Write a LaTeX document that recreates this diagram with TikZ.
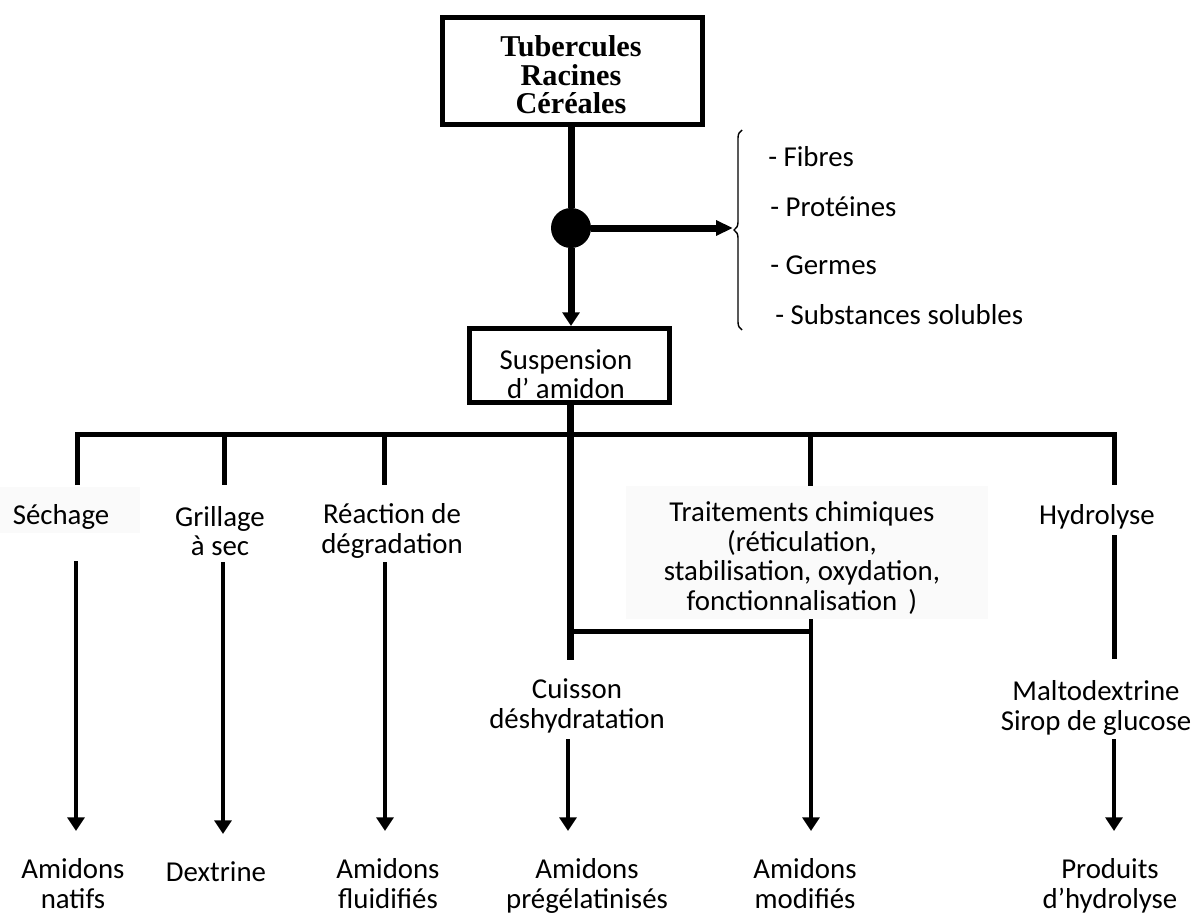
\documentclass[tikz,border=0pt]{standalone}
\usepackage{fontspec}
\setmainfont{Carlito}
\newfontfamily\rootfont{Liberation Serif}
\usetikzlibrary{arrows.meta,decorations.pathreplacing}

\tikzset{
  txt/.style={align=center,inner sep=0pt,font=\fontsize{20.5}{21}\selectfont},
  item/.style={txt,anchor=west},
  product/.style={txt,anchor=north,inner ysep=0.68cm},
  frame/.style={draw,line width=0.125cm,rectangle,inner sep=0pt},
  shade/.style={fill=black!2},
  link/.style={line width=0.125cm},
  trunk/.style={line width=0.175cm},
  flow/.style={line width=0.11cm,-{Triangle[length=0.34cm,width=0.42cm]}},
}

\begin{document}
\begin{tikzpicture}[x=0.025cm,y=-0.025cm]
\useasboundingbox (0,0) rectangle (1200,913);

% raw material and separation
\node[frame,minimum width=6.5cm,minimum height=2.675cm] (root) at (572.5,71) {};
\node[txt,font=\rootfont\bfseries\fontsize{21.5}{20.2}\selectfont] (roottxt) at (571,75) {Tubercules\\Racines\\Céréales};
\node[circle,fill,inner sep=0pt,minimum size=1cm] (sep) at (571,228) {};
\draw[trunk] (root.south -| sep) -- (sep);

% removed fractions
\coordinate (out) at (733,228);
\draw[trunk,-{Triangle[length=0.42cm,width=0.36cm]}] (sep) -- (out);
\draw[line width=0.035cm,decorate,decoration={brace,amplitude=0.2cm}] (742,330) -- (742,130);
\node[item] (fib) at (768,157) {- Fibres};
\node[item] (prot) at (770,207) {- Protéines};
\node[item] (germ) at (770,265) {- Germes};
\node[item] (solub) at (775,315) {- Substances solubles};

% starch slurry
\node[frame,minimum width=5cm,minimum height=1.85cm] (susp) at (569.5,365.5) {};
\node[txt] (susptxt) at (566,374) {Suspension\\d’ amidon};
\draw[trunk,-{Triangle[length=0.34cm,width=0.42cm]}] (sep) -- (sep |- susp.north);

% distribution bar
\coordinate (bar) at (570,434);
\coordinate (t1) at (77,485);
\coordinate (t2) at (224,485);
\coordinate (t3) at (384,485);
\coordinate (t5) at (810,486);
\coordinate (t6) at (1114,485);
\coordinate (c4) at (570,660);
\draw[link] (t1) |- (bar) -| (t6);
\draw[link] (t2 |- bar) -- (t2);
\draw[link] (t3 |- bar) -- (t3);
\draw[link] (t5 |- bar) -- (t5);
\draw[trunk] (susp.south -| c4) -- (c4);

% treatments
\fill[shade] (0,487) rectangle (140,533);
\fill[shade] (626,486) rectangle (988,619);
\node[txt] (seche) at (61,517) {Séchage};
\node[txt] (grill) at (220,531) {Grillage\\à sec};
\node[txt] (degr) at (392,531) {Réaction de\\dégradation};
\node[txt] (trait) at (802,558) {Traitements chimiques\\(réticulation,\\stabilisation, oxydation,\\fonctionnalisation \,)};
\node[txt] (hydro) at (1097,517) {Hydrolyse};
\node[txt] (cuis) at (577,706) {Cuisson\\déshydratation};
\node[txt] (malto) at (1096,708) {Maltodextrine\\Sirop de glucose};

\coordinate (j) at (570,631);
\coordinate (u5) at (811,619);
\coordinate (h1) at (1114,535);
\coordinate (h2) at (1114,659);
\draw[link] (j) -- (j -| u5);
\draw[link] (h1) -- (h2);

% products
\node[product] (natifs) at (73,831) {Amidons\\natifs};
\node[product] (dextr) at (216,834) {Dextrine};
\node[product] (fluid) at (388,831) {Amidons\\fluidifiés};
\node[product] (pregel) at (587,831) {Amidons\\prégélatinisés};
\node[product] (modif) at (805,831) {Amidons\\modifiés};
\node[product] (prod) at (1110,831) {Produits\\d’hydrolyse};

\coordinate (u1) at (76,561);
\coordinate (u2) at (223,562);
\coordinate (u3) at (385,562);
\coordinate (u4) at (568,739);
\coordinate (u6) at (1114,739);
\draw[flow] (u1) -- (u1 |- natifs.north);
\draw[flow] (u2) -- (u2 |- dextr.north);
\draw[flow] (u3) -- (u3 |- fluid.north);
\draw[flow] (u4) -- (u4 |- pregel.north);
\draw[flow] (u5) -- (u5 |- modif.north);
\draw[flow] (u6) -- (u6 |- prod.north);
\end{tikzpicture}
\end{document}
